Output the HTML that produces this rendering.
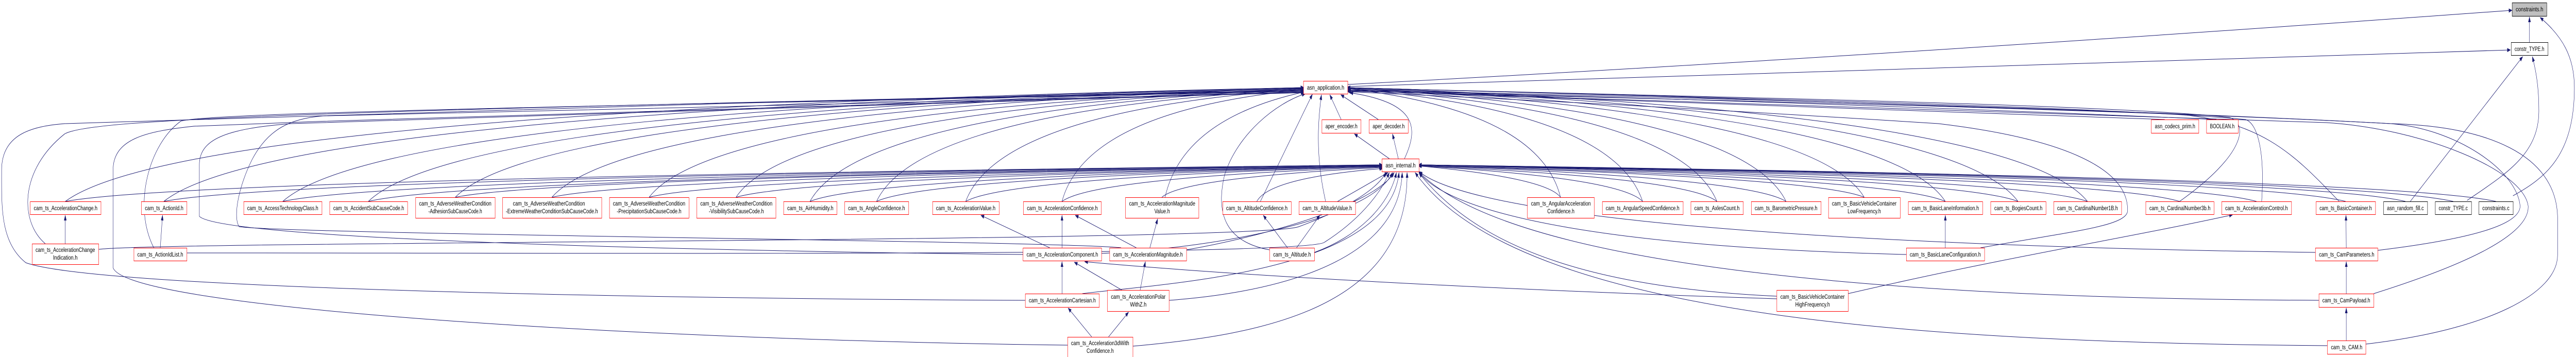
<!DOCTYPE html>
<html><head><meta charset="utf-8"><style>
html,body{margin:0;padding:0;background:#fff;overflow:hidden;width:100vw;height:100vh}
svg{display:block;width:100vw;height:100vh;position:absolute;left:0;top:0}
text{font-family:"Liberation Sans",sans-serif;font-size:12px;fill:#000}
.e{fill:none;stroke:#191970;stroke-width:1}
.r{fill:#fff;stroke:#ff0000;stroke-width:1}
.k{fill:#fff;stroke:#000;stroke-width:1}
</style></head><body>
<svg viewBox="0 0 7973 693" preserveAspectRatio="none" xmlns="http://www.w3.org/2000/svg">
<defs><marker id="a" markerWidth="11" markerHeight="8" refX="10" refY="4" orient="auto" markerUnits="userSpaceOnUse"><path d="M0,0L11,4L0,8z" fill="#191970"/></marker></defs>
<g class="e" marker-end="url(#a)">
<path d="M202,391Q585,215 4036,170"/><path d="M202,391Q610,345 4279,320"/>
<path d="M507,391Q860,215 4036,170"/><path d="M507,391Q884,345 4279,320"/>
<path d="M875,391Q1191,215 4036,170"/><path d="M875,391Q1215,345 4279,320"/>
<path d="M1140,391Q1430,215 4036,171"/><path d="M1140,391Q1454,345 4279,321"/>
<path d="M1409,383Q1672,215 4036,171"/><path d="M1409,383Q1696,345 4279,321"/>
<path d="M1708,383Q1941,215 4036,171"/><path d="M1708,383Q1965,345 4279,321"/>
<path d="M2009,383Q2212,215 4036,172"/><path d="M2009,383Q2236,345 4279,322"/>
<path d="M2278,383Q2454,215 4036,172"/><path d="M2278,383Q2478,345 4279,322"/>
<path d="M2507,391Q2660,215 4036,172"/><path d="M2507,391Q2684,345 4279,322"/>
<path d="M2713,391Q2845,215 4036,173"/><path d="M2713,391Q2870,345 4279,323"/>
<path d="M2989,391Q3094,215 4036,173"/><path d="M2989,391Q3118,345 4279,323"/>
<path d="M3287,391Q3362,215 4036,174"/><path d="M3287,391Q3386,345 4279,324"/>
<path d="M3606,383Q3660,230 4040,178"/><path d="M3596,383Q3664,345 4279,325"/>
<path d="M3901,391L4062,183"/><path d="M3890,391Q3929,345 4280,327"/>
<path d="M4103,391C4070,300 4080,230 4090,184"/><path d="M4140,391L4296,335"/>
<path d="M4830,383Q4764,215 4169,172"/><path d="M4830,383Q4786,345 4390,322"/>
<path d="M5084,391Q4992,215 4169,172"/><path d="M5084,391Q5015,345 4390,322"/>
<path d="M5314,391Q5199,215 4169,172"/><path d="M5314,391Q5222,345 4390,322"/>
<path d="M5528,391Q5392,215 4169,171"/><path d="M5528,391Q5414,345 4390,321"/>
<path d="M5770,383Q5610,215 4169,171"/><path d="M5770,383Q5632,345 4390,321"/>
<path d="M6021,391Q5836,215 4169,171"/><path d="M6021,391Q5858,345 4390,321"/>
<path d="M6246,391Q6038,215 4169,170"/><path d="M6246,391Q6060,345 4390,320"/>
<path d="M6461,391Q6232,215 4169,170"/><path d="M6461,391Q6254,345 4390,320"/>
<path d="M6746,391C6950,300 6960,240 6900,228C6500,200 5000,185 4169,170"/><path d="M6746,391Q6510,345 4390,320"/>
<path d="M7000,391C7010,300 6990,240 6950,232C6500,205 5000,185 4169,170"/><path d="M6984,391Q6725,345 4390,320"/>
<path d="M7240,391C7100,300 7000,230 6700,220C6000,200 5000,185 4169,170"/><path d="M7260,391Q6973,345 4390,320"/>
<path d="M7445,391Q7139,345 4390,320"/><path d="M7593,391Q7273,345 4390,320"/><path d="M7725,391Q7391,345 4390,320"/>
<path d="M4171,164Q5800,110 7775,20"/>
<path d="M4171,168Q5800,140 7770,97"/>
<path d="M7829,82L7829,33"/>
<path d="M7460,391L7808,110"/>
<path d="M7636,389C7750,340 7860,300 7858,214C7858,170 7850,140 7838,110"/>
<path d="M7778,380C7880,345 7968,300 7968,170C7968,110 7930,70 7862,34"/>
<path d="M4151,232L4116,184"/><path d="M4266,232L4150,184"/>
<path d="M4300,308L4192,260"/><path d="M4328,308L4310,260"/>
<path d="M4347,308C4390,250 4390,200 4178,180"/>
<path d="M6700,232Q5500,200 4171,176"/><path d="M6860,232Q5500,195 4171,175"/>
<path d="M202,473L202,418"/><path d="M496,481L503,418"/>
<path d="M3249,481L3036,418"/><path d="M3287,481L3287,418"/>
<path d="M3517,481L3328,418"/><path d="M3559,481L3583,425"/>
<path d="M3287,570L3287,508"/><path d="M3472,563L3325,509"/><path d="M3529,563L3545,508"/>
<path d="M3379,654L3306,598"/><path d="M3431,654L3493,606"/>
<path d="M3985,481L3910,418"/><path d="M4013,481L4085,418"/>
<path d="M6021,481L6021,418"/><path d="M7262,481L7261,418"/>
<path d="M7262,570L7262,508"/><path d="M7262,661L7262,598"/>
<path d="M5720,570C6200,500 6600,460 6910,417"/>
<path d="M5499,580C5000,570 4000,545 3357,508"/>
<path d="M140,473C60,430 60,330 200,260C280,230 1000,215 4036,175"/>
<path d="M476,481C410,400 460,280 560,235C650,220 1500,210 4036,176"/>
<path d="M3173,583C2000,580 300,560 80,510C0,470 5,400 5,330C5,260 100,245 200,240C1000,215 3000,190 4036,177"/>
<path d="M3304,670C2000,660 400,600 350,520L350,330C350,270 450,255 600,245C2000,210 3500,190 4036,178"/>
<path d="M3166,494C2500,490 700,470 617,420L617,320C617,270 700,250 900,240C2000,215 3500,195 4036,179"/>
<path d="M3470,481C3300,468 900,455 740,440C720,420 740,360 780,310C830,250 900,230 1000,225C2000,210 3500,190 4036,180"/>
<path d="M3929,485C3800,470 3760,420 3790,340C3830,260 3950,200 4040,182"/>
<path d="M305,484C500,468 3900,470 4020,440C4150,410 4260,370 4290,335"/>
<path d="M578,491C1500,490 4050,500 4100,470C4200,430 4270,380 4300,335"/>
<path d="M3409,492C3800,480 4250,420 4310,335"/>
<path d="M3672,485C3900,460 4250,400 4315,335"/>
<path d="M4068,490C4200,460 4300,400 4322,335"/>
<path d="M3350,570C3600,550 4300,530 4330,335"/>
<path d="M3618,583C3900,570 4330,520 4340,335"/>
<path d="M3506,672C3900,650 4360,600 4355,335"/>
<path d="M5900,494C5000,480 4500,420 4392,335"/>
<path d="M6130,481C6400,450 6580,440 6585,410C6590,330 6400,270 6000,240C5000,200 4400,185 4171,178"/>
<path d="M5499,575C5000,560 4600,500 4392,336"/>
<path d="M7166,490C6000,480 4600,440 4392,333"/>
<path d="M7359,486C7700,460 7800,430 7800,400C7790,330 7600,250 7400,240C6500,210 5000,185 4171,175"/>
<path d="M7177,583C6000,580 4700,530 4392,334"/>
<path d="M7347,570C7600,520 7830,460 7825,400C7810,330 7500,250 7200,238C6000,205 4800,185 4171,176"/>
<path d="M7203,671C6000,665 4700,620 4380,335"/>
<path d="M7322,668C7700,640 7916,570 7916,495L7916,420C7910,300 7700,245 7400,240C6500,210 5000,190 4171,177"/>
</g>
<g>
<rect x="7775.5" y="5.5" width="107" height="26" fill="#bfbfbf" stroke="#000"/><text x="7829" y="22" text-anchor="middle" textLength="85" lengthAdjust="spacingAndGlyphs">constraints.h</text>
<rect class="k" x="7772.5" y="82.5" width="114" height="25"/><text x="7829" y="99" text-anchor="middle" textLength="92" lengthAdjust="spacingAndGlyphs">constr_TYPE.h</text>
<rect class="r" x="4034.5" y="157.5" width="137" height="25"/><text x="4103" y="174" text-anchor="middle" textLength="115" lengthAdjust="spacingAndGlyphs">asn_application.h</text>
<rect class="r" x="4091.5" y="232.5" width="121" height="26"/><text x="4152" y="249" text-anchor="middle" textLength="99" lengthAdjust="spacingAndGlyphs">aper_encoder.h</text>
<rect class="r" x="4237.5" y="232.5" width="121" height="26"/><text x="4298" y="249" text-anchor="middle" textLength="99" lengthAdjust="spacingAndGlyphs">aper_decoder.h</text>
<rect class="r" x="4277.5" y="308.5" width="115" height="25"/><text x="4335" y="325" text-anchor="middle" textLength="93" lengthAdjust="spacingAndGlyphs">asn_internal.h</text>
<rect class="r" x="6658.5" y="232.5" width="147" height="26"/><text x="6732" y="249" text-anchor="middle" textLength="125" lengthAdjust="spacingAndGlyphs">asn_codecs_prim.h</text>
<rect class="r" x="6829.5" y="232.5" width="98" height="26"/><text x="6878" y="249" text-anchor="middle" textLength="76" lengthAdjust="spacingAndGlyphs">BOOLEAN.h</text>
<rect class="r" x="93.5" y="391.5" width="219" height="25"/><text x="203" y="408" text-anchor="middle" textLength="197" lengthAdjust="spacingAndGlyphs">cam_ts_AccelerationChange.h</text>
<rect class="r" x="437.5" y="391.5" width="141" height="25"/><text x="508" y="408" text-anchor="middle" textLength="119" lengthAdjust="spacingAndGlyphs">cam_ts_ActionId.h</text>
<rect class="r" x="754.5" y="391.5" width="242" height="25"/><text x="875" y="408" text-anchor="middle" textLength="220" lengthAdjust="spacingAndGlyphs">cam_ts_AccessTechnologyClass.h</text>
<rect class="r" x="1020.5" y="391.5" width="241" height="25"/><text x="1141" y="408" text-anchor="middle" textLength="219" lengthAdjust="spacingAndGlyphs">cam_ts_AccidentSubCauseCode.h</text>
<rect class="r" x="2425.5" y="391.5" width="165" height="25"/><text x="2508" y="408" text-anchor="middle" textLength="143" lengthAdjust="spacingAndGlyphs">cam_ts_AirHumidity.h</text>
<rect class="r" x="2614.5" y="391.5" width="198" height="25"/><text x="2713" y="408" text-anchor="middle" textLength="176" lengthAdjust="spacingAndGlyphs">cam_ts_AngleConfidence.h</text>
<rect class="r" x="2886.5" y="391.5" width="206" height="25"/><text x="2989" y="408" text-anchor="middle" textLength="184" lengthAdjust="spacingAndGlyphs">cam_ts_AccelerationValue.h</text>
<rect class="r" x="3167.5" y="391.5" width="241" height="25"/><text x="3288" y="408" text-anchor="middle" textLength="219" lengthAdjust="spacingAndGlyphs">cam_ts_AccelerationConfidence.h</text>
<rect class="r" x="3784.5" y="391.5" width="212" height="25"/><text x="3890" y="408" text-anchor="middle" textLength="190" lengthAdjust="spacingAndGlyphs">cam_ts_AltitudeConfidence.h</text>
<rect class="r" x="4020.5" y="391.5" width="175" height="25"/><text x="4108" y="408" text-anchor="middle" textLength="153" lengthAdjust="spacingAndGlyphs">cam_ts_AltitudeValue.h</text>
<rect class="r" x="4959.5" y="391.5" width="250" height="25"/><text x="5084" y="408" text-anchor="middle" textLength="228" lengthAdjust="spacingAndGlyphs">cam_ts_AngularSpeedConfidence.h</text>
<rect class="r" x="5233.5" y="391.5" width="162" height="25"/><text x="5314" y="408" text-anchor="middle" textLength="140" lengthAdjust="spacingAndGlyphs">cam_ts_AxlesCount.h</text>
<rect class="r" x="5420.5" y="391.5" width="216" height="25"/><text x="5528" y="408" text-anchor="middle" textLength="194" lengthAdjust="spacingAndGlyphs">cam_ts_BarometricPressure.h</text>
<rect class="r" x="5906.5" y="391.5" width="230" height="25"/><text x="6021" y="408" text-anchor="middle" textLength="208" lengthAdjust="spacingAndGlyphs">cam_ts_BasicLaneInformation.h</text>
<rect class="r" x="6161.5" y="391.5" width="171" height="25"/><text x="6247" y="408" text-anchor="middle" textLength="149" lengthAdjust="spacingAndGlyphs">cam_ts_BogiesCount.h</text>
<rect class="r" x="6356.5" y="391.5" width="210" height="25"/><text x="6461" y="408" text-anchor="middle" textLength="188" lengthAdjust="spacingAndGlyphs">cam_ts_CardinalNumber1B.h</text>
<rect class="r" x="6641.5" y="391.5" width="211" height="25"/><text x="6747" y="408" text-anchor="middle" textLength="189" lengthAdjust="spacingAndGlyphs">cam_ts_CardinalNumber3b.h</text>
<rect class="r" x="6876.5" y="391.5" width="216" height="25"/><text x="6984" y="408" text-anchor="middle" textLength="194" lengthAdjust="spacingAndGlyphs">cam_ts_AccelerationControl.h</text>
<rect class="r" x="7168.5" y="391.5" width="184" height="25"/><text x="7260" y="408" text-anchor="middle" textLength="162" lengthAdjust="spacingAndGlyphs">cam_ts_BasicContainer.h</text>
<rect class="k" x="7377.5" y="391.5" width="136" height="25"/><text x="7445" y="408" text-anchor="middle" textLength="114" lengthAdjust="spacingAndGlyphs">asn_random_fill.c</text>
<rect class="k" x="7537.5" y="391.5" width="112" height="25"/><text x="7593" y="408" text-anchor="middle" textLength="90" lengthAdjust="spacingAndGlyphs">constr_TYPE.c</text>
<rect class="k" x="7672.5" y="391.5" width="106" height="25"/><text x="7725" y="408" text-anchor="middle" textLength="84" lengthAdjust="spacingAndGlyphs">constraints.c</text>
<rect class="r" x="1286.5" y="383.5" width="246" height="40"/><text x="1409" y="399" text-anchor="middle" textLength="224" lengthAdjust="spacingAndGlyphs">cam_ts_AdverseWeatherCondition</text><text x="1409" y="414" text-anchor="middle" textLength="166" lengthAdjust="spacingAndGlyphs">-AdhesionSubCauseCode.h</text>
<rect class="r" x="1555.5" y="383.5" width="307" height="40"/><text x="1699" y="399" text-anchor="middle" textLength="223" lengthAdjust="spacingAndGlyphs">cam_ts_AdverseWeatherCondition</text><text x="1708" y="414" text-anchor="middle" textLength="285" lengthAdjust="spacingAndGlyphs">-ExtremeWeatherConditionSubCauseCode.h</text>
<rect class="r" x="1886.5" y="383.5" width="246" height="40"/><text x="2009" y="399" text-anchor="middle" textLength="224" lengthAdjust="spacingAndGlyphs">cam_ts_AdverseWeatherCondition</text><text x="2009" y="414" text-anchor="middle" textLength="200" lengthAdjust="spacingAndGlyphs">-PrecipitationSubCauseCode.h</text>
<rect class="r" x="2156.5" y="383.5" width="245" height="40"/><text x="2279" y="399" text-anchor="middle" textLength="223" lengthAdjust="spacingAndGlyphs">cam_ts_AdverseWeatherCondition</text><text x="2279" y="414" text-anchor="middle" textLength="170" lengthAdjust="spacingAndGlyphs">-VisibilitySubCauseCode.h</text>
<rect class="r" x="3483.5" y="383.5" width="227" height="40"/><text x="3597" y="399" text-anchor="middle" textLength="205" lengthAdjust="spacingAndGlyphs">cam_ts_AccelerationMagnitude</text><text x="3597" y="414" text-anchor="middle" textLength="48" lengthAdjust="spacingAndGlyphs">Value.h</text>
<rect class="r" x="4727.5" y="383.5" width="207" height="40"/><text x="4831" y="399" text-anchor="middle" textLength="185" lengthAdjust="spacingAndGlyphs">cam_ts_AngularAcceleration</text><text x="4831" y="414" text-anchor="middle" textLength="84" lengthAdjust="spacingAndGlyphs">Confidence.h</text>
<rect class="r" x="5659.5" y="383.5" width="222" height="40"/><text x="5770" y="399" text-anchor="middle" textLength="200" lengthAdjust="spacingAndGlyphs">cam_ts_BasicVehicleContainer</text><text x="5770" y="414" text-anchor="middle" textLength="103" lengthAdjust="spacingAndGlyphs">LowFrequency.h</text>
<rect class="r" x="99.5" y="473.5" width="206" height="40"/><text x="202" y="489" text-anchor="middle" textLength="184" lengthAdjust="spacingAndGlyphs">cam_ts_AccelerationChange</text><text x="202" y="504" text-anchor="middle" textLength="76" lengthAdjust="spacingAndGlyphs">Indication.h</text>
<rect class="r" x="414.5" y="481.5" width="164" height="25"/><text x="496" y="498" text-anchor="middle" textLength="142" lengthAdjust="spacingAndGlyphs">cam_ts_ActionIdList.h</text>
<rect class="r" x="3166.5" y="481.5" width="243" height="25"/><text x="3288" y="498" text-anchor="middle" textLength="221" lengthAdjust="spacingAndGlyphs">cam_ts_AccelerationComponent.h</text>
<rect class="r" x="3434.5" y="481.5" width="238" height="25"/><text x="3553" y="498" text-anchor="middle" textLength="216" lengthAdjust="spacingAndGlyphs">cam_ts_AccelerationMagnitude.h</text>
<rect class="r" x="3929.5" y="481.5" width="139" height="25"/><text x="3999" y="498" text-anchor="middle" textLength="117" lengthAdjust="spacingAndGlyphs">cam_ts_Altitude.h</text>
<rect class="r" x="5900.5" y="481.5" width="242" height="25"/><text x="6021" y="498" text-anchor="middle" textLength="220" lengthAdjust="spacingAndGlyphs">cam_ts_BasicLaneConfiguration.h</text>
<rect class="r" x="7166.5" y="481.5" width="193" height="25"/><text x="7263" y="498" text-anchor="middle" textLength="171" lengthAdjust="spacingAndGlyphs">cam_ts_CamParameters.h</text>
<rect class="r" x="3173.5" y="570.5" width="229" height="26"/><text x="3288" y="587" text-anchor="middle" textLength="207" lengthAdjust="spacingAndGlyphs">cam_ts_AccelerationCartesian.h</text>
<rect class="r" x="3427.5" y="563.5" width="191" height="41"/><text x="3523" y="580" text-anchor="middle" textLength="169" lengthAdjust="spacingAndGlyphs">cam_ts_AccelerationPolar</text><text x="3523" y="595" text-anchor="middle" textLength="51" lengthAdjust="spacingAndGlyphs">WithZ.h</text>
<rect class="r" x="5499.5" y="563.5" width="221" height="41"/><text x="5610" y="580" text-anchor="middle" textLength="199" lengthAdjust="spacingAndGlyphs">cam_ts_BasicVehicleContainer</text><text x="5610" y="595" text-anchor="middle" textLength="107" lengthAdjust="spacingAndGlyphs">HighFrequency.h</text>
<rect class="r" x="7177.5" y="570.5" width="170" height="26"/><text x="7262" y="587" text-anchor="middle" textLength="148" lengthAdjust="spacingAndGlyphs">cam_ts_CamPayload.h</text>
<rect class="r" x="3304.5" y="654.5" width="202" height="40"/><text x="3405" y="670" text-anchor="middle" textLength="180" lengthAdjust="spacingAndGlyphs">cam_ts_Acceleration3dWith</text><text x="3405" y="685" text-anchor="middle" textLength="84" lengthAdjust="spacingAndGlyphs">Confidence.h</text>
<rect class="r" x="7203.5" y="661.5" width="119" height="26"/><text x="7263" y="678" text-anchor="middle" textLength="97" lengthAdjust="spacingAndGlyphs">cam_ts_CAM.h</text>
</g>
</svg>
</body></html>
